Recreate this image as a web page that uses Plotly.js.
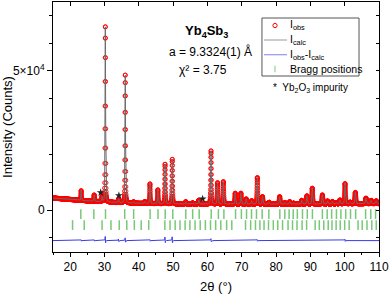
<!DOCTYPE html>
<html>
<head>
<meta charset="utf-8">
<script src="https://cdn.plot.ly/plotly-3.0.1.min.js"></script>
<style>html,body{margin:0;padding:0;background:#fff}#chart{width:390px;height:294px}</style>
</head>
<body>
<div id="chart"></div>
<script>
// ---- data ----
// background (2theta, counts)
const bgX = [15, 20, 25, 30, 35, 40, 50, 70, 90, 110];
const bgY = [4300, 3800, 3300, 2900, 2600, 2400, 2200, 2100, 2100, 2300];
// peak positions (2theta, deg) and heights above background (counts)
const peakPos = [23.2, 27.0, 29.3, 30.25, 34.1, 36.05, 38.5, 41.8, 43.25, 45.55, 47.65, 49.75, 53.7, 55.7, 57.5,
  61.05, 62.95, 64.65, 68.1, 69.75, 71.3, 72.9, 74.55, 76.05, 78.0, 81.05, 82.6, 84.0, 85.1, 87.5, 89.0, 90.55,
  93.5, 95.0, 96.4, 97.6, 98.6, 100.1, 101.6, 103.1, 106.2, 107.7, 109.2];
const peakHeight = [3500, 2300, 1900, 63500, 1300, 46300, 500, 700, 7100, 5000, 14300, 16100, 800, 400, 1400,
  19200, 7700, 8100, 3950, 3950, 1900, 1250, 9600, 2700, 700, 2700, 600, 900, 400, 1400, 3000, 5750,
  3300, 1100, 900, 500, 1400, 7300, 600, 4100, 2000, 1200, 1000];
// difference curve: offset and small residual spikes
const diffOffset = -11000;
const diffPos = [23.2, 27.0, 30.25, 34.1, 36.05, 43.25, 47.65, 49.75, 61.05, 74.55, 100.1];
const diffAmp = [300, 300, 1500, 600, 1000, 400, 1300, 1400, 700, 400, 500];
// Bragg reflection positions
const braggSb = [23.1, 26.9, 30.3, 35.9, 38.5, 43.3, 45.6, 47.7, 49.9, 53.7, 55.7, 57.6, 61.1, 63.2, 64.8,
  68.2, 69.9, 71.4, 72.85, 74.3, 75.95, 77.9, 81.1, 82.55, 83.8, 85.0, 86.2, 87.7, 89.1, 90.6,
  93.5, 94.9, 96.2, 97.6, 98.9, 100.3, 101.7, 103.2, 106.1, 107.6, 109.0];
const braggOx = [20.7, 24.1, 29.3, 31.9, 34.3, 36.5, 38.7, 40.7, 42.9, 47.6, 49.1, 50.6, 52.0, 53.5, 54.9,
  56.4, 57.9, 59.4, 60.9, 62.4, 63.9, 65.6, 67.1, 71.1, 72.6, 74.0, 75.3, 76.5, 77.8, 79.2, 80.5, 81.9,
  83.5, 84.8, 86.1, 87.6, 88.9, 91.4, 92.6, 93.9, 95.2, 96.3, 97.5, 98.7, 100.0, 101.3, 103.9, 105.1,
  106.5, 107.9, 109.2];
const braggLevel = [-1450, -5400];
// impurity markers
const starX = [28.9, 34.2, 58.6];
const starY = [6300, 5200, 4000];
// legend labels
const legendNames = ['I<sub>obs</sub>', 'I<sub>calc</sub>', 'I<sub>obs</sub>-I<sub>calc</sub>', 'Bragg positions'];

// ---- build profile from the read peaks ----
function bgAt(t) {
  for (let i = 0; i < bgX.length - 1; i++) {
    if (t <= bgX[i + 1]) return bgY[i] + (bgY[i + 1] - bgY[i]) * (t - bgX[i]) / (bgX[i + 1] - bgX[i]);
  }
  return bgY[bgY.length - 1];
}
function pv(dx, w) {
  const q = (dx / w) * (dx / w);
  return 0.3 / (1 + 4 * q) + 0.7 * Math.exp(-4 * Math.LN2 * q);
}
function g(u) { return Math.exp(-u * u); }
const tt = [], yCalc = [], yDiff = [];
for (let k = 0; k <= 4750; k++) {
  const t = 15 + k * 0.02;
  let v = bgAt(t);
  for (let j = 0; j < peakPos.length; j++) {
    const dx = t - peakPos[j];
    if (Math.abs(dx) < 2) v += peakHeight[j] * pv(dx, 0.17 + 0.0015 * (peakPos[j] - 15));
  }
  let d = diffOffset;
  for (let j = 0; j < diffPos.length; j++) {
    const dx = t - diffPos[j];
    if (Math.abs(dx) < 1) d += diffAmp[j] * (g((dx + 0.03) / 0.06) - 0.6 * g((dx - 0.08) / 0.06));
  }
  tt.push(t); yCalc.push(v); yDiff.push(d);
}

const font = 'Liberation Sans, Arial, sans-serif';
const red = '#ff0000', blue = '#3a3ae8', green = '#78c878';
const traces = [
  {x: tt, y: yCalc, type: 'scatter', mode: 'markers', name: legendNames[0], showlegend: false,
   marker: {symbol: 'circle-open', size: 4, color: red, line: {width: 0.9, color: red}}},
  {x: tt, y: yCalc, type: 'scatter', mode: 'lines', name: legendNames[1], showlegend: false,
   line: {color: '#6a6a6a', width: 1}},
  {x: tt, y: yDiff, type: 'scatter', mode: 'lines', name: legendNames[2], showlegend: false,
   line: {color: blue, width: 1}},
  {x: braggSb, y: braggSb.map(() => braggLevel[0]), type: 'scatter', mode: 'markers', name: legendNames[3],
   showlegend: false, marker: {symbol: 'line-ns-open', size: 7, color: green, line: {color: green, width: 1.5}}},
  {x: braggOx, y: braggOx.map(() => braggLevel[1]), type: 'scatter', mode: 'markers', name: legendNames[3],
   showlegend: false, marker: {symbol: 'line-ns-open', size: 7, color: green, line: {color: green, width: 1.5}}},
  {x: starX, y: starY, type: 'scatter', mode: 'markers', showlegend: false,
   marker: {symbol: 'star', size: 6, color: '#222222'}},
  {x: [null], y: [null], xaxis: 'x2', yaxis: 'y2', type: 'scatter', mode: 'markers', showlegend: false, hoverinfo: 'skip'}
];

// manual legend geometry (paper coords)
const L = {x0: 0.641, x1: 0.9387, y0: 0.704, y1: 0.936, rows: [0.906, 0.848, 0.789, 0.732],
  sym0: 0.6472, sym1: 0.7178, symC: 0.681, text: 0.7209};
const shapes = [
  {type: 'rect', xref: 'paper', yref: 'paper', x0: L.x0, x1: L.x1, y0: L.y0, y1: L.y1,
   line: {color: '#555', width: 1}, fillcolor: 'rgba(255,255,255,0.9)'},
  {type: 'circle', xref: 'paper', yref: 'paper', x0: L.symC - 0.0065, x1: L.symC + 0.0065,
   y0: L.rows[0] - 0.0085, y1: L.rows[0] + 0.0085, line: {color: red, width: 1}},
  {type: 'line', xref: 'paper', yref: 'paper', x0: L.sym0, x1: L.sym1, y0: L.rows[1], y1: L.rows[1],
   line: {color: '#9a9a9a', width: 1}},
  {type: 'line', xref: 'paper', yref: 'paper', x0: L.sym0, x1: L.sym1, y0: L.rows[2], y1: L.rows[2],
   line: {color: '#8080f0', width: 1}},
  {type: 'line', xref: 'paper', yref: 'paper', x0: L.symC, x1: L.symC, y0: L.rows[3] - 0.013, y1: L.rows[3] + 0.013,
   line: {color: '#a8dca8', width: 1.5}}
];
const annotations = [
  {xref: 'paper', yref: 'paper', x: 0.47, y: 0.922, text: '<b>Yb<sub>4</sub>Sb<sub>3</sub></b>', showarrow: false,
   font: {size: 13}},
  {xref: 'paper', yref: 'paper', x: 0.484, y: 0.84, text: 'a = 9.3324(1) Å', showarrow: false, font: {size: 12}},
  {xref: 'paper', yref: 'paper', x: 0.46, y: 0.765, text: 'χ² = 3.75', showarrow: false, font: {size: 12}},
  {xref: 'paper', yref: 'paper', x: 0.67, y: 0.656, xanchor: 'left', text: '*  Yb<sub>2</sub>O<sub>3</sub> impurity',
   showarrow: false, font: {size: 10}}
];
legendNames.forEach((n, i) => annotations.push({xref: 'paper', yref: 'paper', x: L.text, y: L.rows[i],
  xanchor: 'left', yanchor: 'middle', text: n, showarrow: false, font: {size: 10.5}}));

const yRange = [-15100, 74800];
const layout = {
  width: 390, height: 294,
  margin: {l: 53, r: 11, t: 2, b: 42},
  paper_bgcolor: '#ffffff', plot_bgcolor: '#ffffff',
  font: {family: font, size: 12, color: '#000'},
  showlegend: false,
  xaxis: {range: [15, 110], tick0: 0, dtick: 10, ticks: 'outside', ticklen: 4, tickcolor: '#000',
    showline: true, linecolor: '#000', linewidth: 1, mirror: true, showgrid: false, zeroline: false,
    tickfont: {size: 12}, minor: {ticks: 'outside', dtick: 5, ticklen: 2, tickcolor: '#000'},
    title: {text: '2θ (°)', font: {size: 13}, standoff: 13}},
  xaxis2: {overlaying: 'x', matches: 'x', side: 'top', range: [15, 110], tick0: 0, dtick: 10, ticks: 'inside',
    ticklen: 4, tickcolor: '#000', showticklabels: false, showgrid: false, zeroline: false, showline: false},
  yaxis: {range: yRange, tickmode: 'array', tickvals: [0, 50000], ticktext: ['0', '5×10<sup>4</sup>'],
    ticks: 'outside', ticklen: 5, tickcolor: '#000', showline: true, linecolor: '#000', linewidth: 1, mirror: true,
    showgrid: false, zeroline: false, tickfont: {size: 12},
    minor: {tickmode: 'linear', tick0: 0, dtick: 10000, ticks: 'outside', ticklen: 3, tickcolor: '#000'},
    title: {text: 'Intensity (Counts)', font: {size: 13}, standoff: 6}},
  yaxis2: {overlaying: 'y', side: 'right', range: yRange, tick0: 0, dtick: 10000, ticks: 'inside', ticklen: 3,
    tickcolor: '#000', showticklabels: false, showgrid: false, zeroline: false, showline: false},
  shapes: shapes,
  annotations: annotations
};
Plotly.newPlot('chart', traces, layout, {displayModeBar: false, staticPlot: true});
</script>
</body>
</html>
